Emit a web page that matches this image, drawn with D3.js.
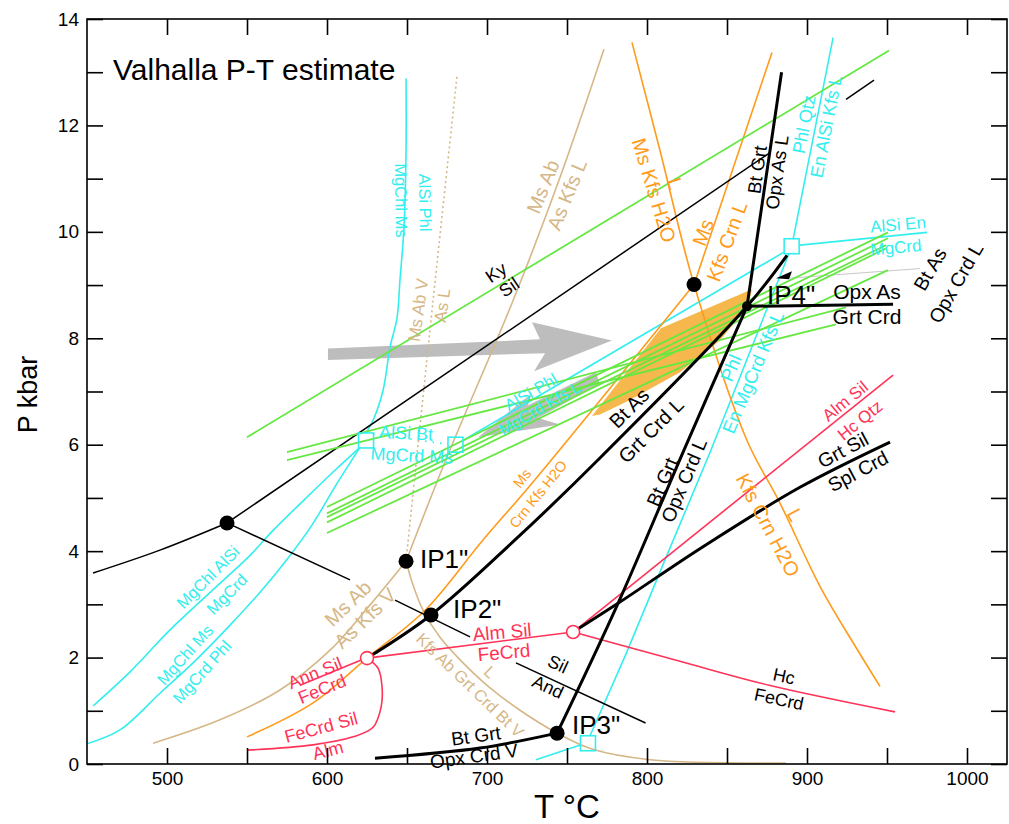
<!DOCTYPE html>
<html>
<head>
<meta charset="utf-8">
<script src="https://cdn.jsdelivr.net/npm/d3@7"></script>
<style>
  body { margin: 0; background: #fff; }
  text { font-family: "Liberation Sans", Arial, Helvetica, sans-serif; }
</style>
</head>
<body>
<div id="chart-area"></div>
<script>
// Valhalla P-T estimate -- petrogenetic grid, T in deg C, P in kbar

var margin = { left: 87, top: 19, right: 2, bottom: 60 }
var width = 1009 - margin.left - margin.right,
    height = 824 - margin.top - margin.bottom

// ticks
var xTicks = [500, 550, 600, 650, 700, 750, 800, 850, 900, 950, 1000]
var xTickLabels = [500, 600, 700, 800, 900, 1000]
var yTicks = [0, 1, 2, 3, 4, 5, 6, 7, 8, 9, 10, 11, 12, 13, 14]
var yTickLabels = [0, 2, 4, 6, 8, 10, 12, 14]

// --- reaction lines, [T, P] ---
// aluminosilicates
var kyAnd = [[453.8, 3.59], [495.6, 4.02], [537.5, 4.53]]
var kySil = [[537.5, 4.53], [876.9, 11.49]]
var kySilTop = [[924.4, 12.49], [941.9, 12.85]]
var silAnd1 = [[537.5, 4.53], [614.4, 3.46]]
var silAnd2 = [[642.5, 3.08], [689.4, 2.39]]
var silAnd3 = [[718.1, 1.90], [799.1, 0.77]]

// thick black
var btAsGrtCrdL = [[625, 1.99], [665, 2.80], [717.5, 4.21], [770.6, 5.75], [862.5, 8.60], [887.5, 9.56]]
var btGrtOpxCrdL = [[743.8, 0.58], [781.9, 3.02], [823.1, 5.90], [862.5, 8.60]]
var btGrtOpxCrdV = [[630, 0.11], [695.6, 0.30], [743.8, 0.58]]
var btGrtOpxAsL = [[862.5, 8.60], [884.1, 13.0]]
var opxAsGrtCrd = [[862.5, 8.60], [953.8, 8.64]]
var grtSilSplCrd = [[753.8, 2.48], [781.9, 3.02], [833.8, 4.06], [895.6, 5.20], [951.9, 6.05]]
var btAsOpxCrdL = [[889.4, 9.13], [970.6, 9.31]]

// Fe system (red)
var almSilFeCrd = [[625, 1.99], [753.8, 2.48]]
var hcFeCrd = [[753.8, 2.48], [820.6, 1.93], [876.3, 1.48], [955, 0.98]]
var almSilHcQtz = [[753.8, 2.48], [953.8, 7.31]]
var annSilFeCrd = [[583.1, 1.48], [621, 1.95]]
var feCrdSilAlm = [[550, 0.26], [591.3, 0.36], [616.3, 0.51], [628.8, 0.69], [633.8, 1.07], [634.4, 1.45], [631.9, 1.80], [625, 1.99]]

// muscovite (orange)
var msCrnKfsH2O = [[550, 0.51], [591.3, 1.15], [625, 1.99], [661.3, 2.89], [697.5, 4.21], [728.8, 5.30], [829.4, 9.01]]
var msKfsCrnL = [[829.4, 9.01], [878.1, 13.37]]
var msKfsH2OL = [[790.6, 13.56], [808.1, 11.53], [829.4, 9.01], [862.5, 6.08], [882.5, 4.94], [908.1, 3.34], [929.4, 2.25], [945.6, 1.46]]

// granite (tan)
var msAbAsKfsV = [[491.3, 0.39], [533.1, 0.83], [570.6, 1.39], [601.9, 2.14], [626.9, 2.99], [649.4, 3.81]]
var msAbAsKfsL = [[649.4, 3.81], [675, 5.77], [716.3, 8.71], [745.6, 11.02], [773.1, 13.43]]
var kfsAbGrtCrdBtV = [[649.4, 3.81], [653.8, 3.36], [660, 2.89], [670.6, 2.38], [684.4, 1.92], [701.9, 1.43], [720.6, 1.01], [743.8, 0.58], [765.6, 0.28], [801.9, 0.08], [886.9, 0.02]]
var msAbVAsL = [[649.4, 3.81], [666.3, 8.71], [681.3, 12.94]]

// Mg system (cyan)
var alsiPhlMgChlMs = [[624.4, 6.22], [628.8, 6.46], [635, 7.02], [639.4, 7.83], [643.8, 8.39], [645.6, 9.09], [648.1, 10.08], [649.4, 11.53], [649.4, 12.88]]
var mgChlAlSiMgCrd = [[453.8, 1.09], [476.9, 1.73], [501.9, 2.52], [531.9, 3.36], [551.9, 3.92], [566.3, 4.39], [585.6, 4.96], [605, 5.52], [620.6, 5.95]]
var mgChlMsMgCrdPhl = [[450, 0.38], [470.6, 0.64], [495.6, 1.33], [516.3, 1.90], [539.4, 2.61], [559.4, 3.27], [576.9, 3.92], [590.6, 4.49], [605.6, 5.24], [620.6, 5.95]]
var alsiBtMgCrdMs = [[628.8, 6.20], [675.6, 6.01]]
var alsiPhlMgCrdKfsL = [[685, 6.08], [885.6, 9.62]]
var alsiEnMgCrd = [[895.6, 9.75], [975, 9.99]]
var phlQtzEnAlsiKfsL = [[891.3, 9.86], [916.3, 13.65]]
var phlEnMgCrdKfsL = [[888.8, 9.60], [840, 5.90], [810.6, 3.79], [786.9, 2.07], [764.4, 0.53]]
var cyanLow = [[758.8, 0.36], [730.6, 0.08]]

// average P-T lines (green)
var greenLines = [
  [[550, 6.14], [951.3, 13.41]],
  [[575, 5.86], [924.4, 8.58]],
  [[575, 5.71], [918.1, 8.26]],
  [[600, 4.83], [950.6, 9.99]],
  [[600, 4.71], [950.6, 9.88]],
  [[600, 4.64], [949.4, 9.75]],
  [[600, 4.54], [949.4, 9.69]],
  [[600, 4.34], [950.6, 9.28]]
]

// P-T estimate field and path arrows
var ptField = [[765.6, 6.54], [808.7, 8.19], [865.6, 8.92], [863.1, 8.60], [845.6, 7.96], [820.6, 7.36], [789.4, 6.84], [770.6, 6.57]]
var bigArrow = [[600.6, 7.81], [733.1, 7.98], [728.1, 8.30], [778.1, 7.96], [729.4, 7.38], [736.3, 7.72], [600.6, 7.59]]
var smallArrow = [[694.4, 6.14], [728.1, 6.97], [725.6, 6.74], [768.1, 7.36], [770.6, 7.14], [731.9, 6.50], [745.6, 6.38]]
var ip4Arrow = [[880.6, 9.13], [890.6, 9.26], [888.8, 9.11]]

// points
var invariantPoints = [[537.5, 4.53], [649.4, 3.81], [665, 2.80], [743.8, 0.58], [829.4, 9.01], [862.5, 8.60]]
var openCircles = [[625, 1.99], [753.8, 2.48]]
var squares = [[624.4, 6.08], [680.3, 6.00], [890.4, 9.73], [763.1, 0.39]]
var ipNames = [["IP1\"", 658.1, 3.68], ["IP2\"", 678.8, 2.74], ["IP3\"", 753.1, 0.56], ["IP4\"", 875, 8.64]]

var C = { k: "#000000", c: "#33eeee", o: "#ff9b1a", t: "#d6b787", r: "#ff3358", g: "#66e843" }

// text, T, P, angle, colour, size
var labels = [
  ["Ky", 705.6, 9.24, -34, "k", 18],
  ["Sil", 713.8, 8.96, -34, "k", 18],
  ["Sil", 744.4, 1.88, 25, "k", 18],
  ["And", 738.1, 1.45, 25, "k", 18],
  ["Hc", 885.6, 1.65, 12, "k", 18],
  ["FeCrd", 882.5, 1.22, 12, "k", 18],
  ["Ms", 721.9, 5.37, -51, "o", 14.5],
  ["Crn Kfs H2O", 731.9, 5.07, -51, "o", 14.5],
  ["Ms", 835, 9.99, -70, "o", 20],
  ["Kfs Crn L", 850, 9.82, -70, "o", 20],
  ["Ms Kfs H2O", 804.4, 10.78, 73, "o", 20],
  ["L", 817.5, 10.91, 73, "o", 20],
  ["Kfs Crn H2O", 875.6, 4.49, 62, "o", 20],
  ["L", 892.5, 4.68, 62, "o", 20],
  ["Bt Grt", 868.8, 11.17, -82, "k", 18.5],
  ["Opx As L", 881.3, 11.12, -82, "k", 18.5],
  ["Phl Qtz", 898.1, 12.02, -79, "c", 18],
  ["En AlSi Kfs L", 911.9, 11.98, -79, "c", 18],
  ["AlSi En", 956.9, 10.14, -5, "c", 17],
  ["MgCrd", 955.6, 9.71, -5, "c", 17],
  ["Opx As", 937.5, 8.87, 0, "k", 21],
  ["Grt Crd", 937.5, 8.40, 0, "k", 21],
  ["Bt As", 976.9, 9.30, -60, "k", 19.5],
  ["Opx Crd L", 993.1, 9.04, -60, "k", 19.5],
  ["Bt As", 788.8, 6.69, -45, "k", 20],
  ["Grt Crd L", 802.5, 6.27, -45, "k", 20],
  ["Bt Grt", 809.4, 5.30, -67, "k", 19.5],
  ["Opx Crd L", 823.1, 5.33, -67, "k", 19.5],
  ["Phl", 852.5, 7.44, -67, "c", 18.5],
  ["En MgCrd Kfs L", 866.3, 7.36, -67, "c", 18.5],
  ["Alm Sil", 923.8, 6.82, -39, "r", 17],
  ["Hc Qtz", 933.1, 6.46, -39, "r", 17],
  ["Grt Sil", 922.5, 5.90, -28, "k", 19.5],
  ["Spl Crd", 931.9, 5.50, -28, "k", 19.5],
  ["Alm Sil", 709.4, 2.48, -5, "r", 19],
  ["FeCrd", 710.6, 2.10, -5, "r", 19],
  ["Ann Sil", 592.5, 1.71, -22, "r", 18],
  ["FeCrd", 596.9, 1.41, -22, "r", 18],
  ["FeCrd Sil", 596.3, 0.69, -15, "r", 18],
  ["Alm", 600.6, 0.26, -15, "r", 18],
  ["Bt Grt", 693.1, 0.53, -8, "k", 19],
  ["Opx Crd V", 691.9, 0.15, -8, "k", 19],
  ["Kfs Ab Grt Crd Bt V", 689.4, 1.48, 44, "t", 16.5],
  ["L", 701.9, 1.73, 44, "t", 16.5],
  ["Ms Ab", 613.1, 3.02, -44, "t", 20],
  ["As Kfs V", 623.8, 2.74, -44, "t", 20],
  ["Ms Ab", 735, 10.85, -68, "t", 20],
  ["As Kfs L", 750, 10.70, -68, "t", 20],
  ["Ms Ab V", 656.9, 8.53, -82, "t", 17],
  ["As L", 671.9, 8.62, -82, "t", 17],
  ["AlSi Phl", 661.3, 10.55, 89, "c", 16.5],
  ["MgChl Ms", 646.3, 10.59, 89, "c", 16.5],
  ["MgChl AlSi", 525.6, 3.51, -45, "c", 16.5],
  ["MgCrd", 537.5, 3.19, -45, "c", 16.5],
  ["MgChl Ms", 511.3, 2.05, -48, "c", 16.5],
  ["MgCrd Phl", 521.9, 1.73, -48, "c", 16.5],
  ["AlSi Bt", 649.4, 6.22, 3, "c", 18],
  ["MgCrd Ms", 653.1, 5.80, 3, "c", 18],
  ["AlSi Phl", 727.5, 6.99, -30, "c", 16.5],
  ["MgCrd Kfs L", 733.1, 6.69, -30, "c", 16.5]
]

var svg = d3.select("#chart-area").append("svg")
    .attr("width", width + margin.left + margin.right)
    .attr("height", height + margin.top + margin.bottom)

var g = svg.append("g")
    .attr("transform", "translate(" + margin.left + "," + margin.top + ")")

var x = d3.scaleLinear().domain([450, 1025]).range([0, width])
var y = d3.scaleLinear().domain([0, 14]).range([height, 0])

svg.append("clipPath").attr("id", "plot-clip")
  .append("rect").attr("width", width).attr("height", height)

var plot = g.append("g").attr("clip-path", "url(#plot-clip)")

var straight = d3.line().x(function(d) { return x(d[0]) }).y(function(d) { return y(d[1]) })
var smooth = d3.line().x(function(d) { return x(d[0]) }).y(function(d) { return y(d[1]) })
    .curve(d3.curveCatmullRom.alpha(0.5))

// shaded P-T field and grey arrows underneath
plot.append("path").attr("d", straight(ptField) + "Z").attr("fill", "#f6b74c")
plot.append("path").attr("d", straight(bigArrow) + "Z").attr("fill", "#bdbdbd")
plot.append("path").attr("d", straight(smallArrow) + "Z").attr("fill", "#bdbdbd")

var lines = [
  { pts: mgChlAlSiMgCrd, c: "c", w: 1.6, s: true },
  { pts: mgChlMsMgCrdPhl, c: "c", w: 1.6, s: true },
  { pts: alsiPhlMgChlMs, c: "c", w: 1.6, s: true },
  { pts: alsiBtMgCrdMs, c: "c", w: 1.8, dash: "1.5,6" },
  { pts: alsiPhlMgCrdKfsL, c: "c", w: 1.6 },
  { pts: alsiEnMgCrd, c: "c", w: 1.6 },
  { pts: phlQtzEnAlsiKfsL, c: "c", w: 1.6 },
  { pts: phlEnMgCrdKfsL, c: "c", w: 1.6 },
  { pts: cyanLow, c: "c", w: 1.6 },
  { pts: msAbAsKfsV, c: "t", w: 1.6, s: true },
  { pts: msAbAsKfsL, c: "t", w: 1.6, s: true },
  { pts: kfsAbGrtCrdBtV, c: "t", w: 1.6, s: true },
  { pts: msAbVAsL, c: "t", w: 1.6, s: true, dash: "2,3" },
  { pts: msCrnKfsH2O, c: "o", w: 1.6, s: true },
  { pts: msKfsCrnL, c: "o", w: 1.6 },
  { pts: msKfsH2OL, c: "o", w: 1.6, s: true },
  { pts: almSilFeCrd, c: "r", w: 1.6 },
  { pts: hcFeCrd, c: "r", w: 1.6, s: true },
  { pts: almSilHcQtz, c: "r", w: 1.6 },
  { pts: annSilFeCrd, c: "r", w: 1.6 },
  { pts: feCrdSilAlm, c: "r", w: 1.6, s: true },
  { pts: kyAnd, c: "k", w: 1.5, s: true },
  { pts: kySil, c: "k", w: 1.5 },
  { pts: kySilTop, c: "k", w: 1.5 },
  { pts: silAnd1, c: "k", w: 1.5 },
  { pts: silAnd2, c: "k", w: 1.5 },
  { pts: silAnd3, c: "k", w: 1.5 },
  { pts: btAsOpxCrdL, c: "#c8c8c8", w: 1 }
]

greenLines.forEach(function(p) { lines.push({ pts: p, c: "g", w: 1.8 }) })

lines = lines.concat([
  { pts: btAsGrtCrdL, c: "k", w: 3, s: true },
  { pts: btGrtOpxCrdL, c: "k", w: 3, s: true },
  { pts: btGrtOpxCrdV, c: "k", w: 3, s: true },
  { pts: btGrtOpxAsL, c: "k", w: 3 },
  { pts: opxAsGrtCrd, c: "k", w: 3 },
  { pts: grtSilSplCrd, c: "k", w: 3, s: true }
])

plot.selectAll("path.rxn")
  .data(lines)
  .enter().append("path")
    .attr("class", "rxn")
    .attr("d", function(d) { return d.s ? smooth(d.pts) : straight(d.pts) })
    .attr("fill", "none")
    .attr("stroke", function(d) { return C[d.c] || d.c })
    .attr("stroke-width", function(d) { return d.w })
    .attr("stroke-dasharray", function(d) { return d.dash || null })

plot.append("path").attr("d", straight(ip4Arrow) + "Z").attr("fill", "#000")

plot.selectAll("circle.ip")
  .data(invariantPoints)
  .enter().append("circle")
    .attr("cx", function(d) { return x(d[0]) })
    .attr("cy", function(d) { return y(d[1]) })
    .attr("r", function(d, i) { return i == 5 ? 5 : 7.5 })
    .attr("fill", "#000")

plot.selectAll("circle.open")
  .data(openCircles)
  .enter().append("circle")
    .attr("cx", function(d) { return x(d[0]) })
    .attr("cy", function(d) { return y(d[1]) })
    .attr("r", 6.5)
    .attr("fill", "#fff")
    .attr("stroke", C.r)
    .attr("stroke-width", 1.6)

plot.selectAll("rect.sq")
  .data(squares)
  .enter().append("rect")
    .attr("x", function(d) { return x(d[0]) - 7.5 })
    .attr("y", function(d) { return y(d[1]) - 7.5 })
    .attr("width", 15)
    .attr("height", 15)
    .attr("fill", "none")
    .attr("stroke", C.c)
    .attr("stroke-width", 1.6)

// labels
g.selectAll("text.lab")
  .data(labels)
  .enter().append("text")
    .attr("class", "lab")
    .attr("transform", function(d) {
      return "translate(" + x(d[1]) + "," + y(d[2]) + ") rotate(" + d[3] + ")"
    })
    .attr("text-anchor", "middle")
    .attr("dy", "0.35em")
    .attr("font-size", function(d) { return d[5] + "px" })
    .attr("fill", function(d) { return C[d[4]] })
    .text(function(d) { return d[0] })

g.selectAll("text.ipname")
  .data(ipNames)
  .enter().append("text")
    .attr("x", function(d) { return x(d[1]) })
    .attr("y", function(d) { return y(d[2]) })
    .attr("font-size", "26px")
    .text(function(d) { return d[0] })

g.append("text")
  .attr("x", 26)
  .attr("y", 61)
  .attr("font-size", "30px")
  .text("Valhalla P-T estimate")

// axes, ticks pointing inward
function styleAxis(sel) {
  sel.select(".domain").remove()
  sel.selectAll("line").attr("stroke-width", 1.6)
  sel.selectAll("text").attr("font-size", "19px")
    .attr("font-family", "Liberation Sans, Arial, sans-serif")
}

var xAxisCall = d3.axisBottom(x)
  .tickValues(xTicks)
  .tickSize(-16)
  .tickPadding(8)
  .tickFormat(function(d) { return xTickLabels.indexOf(d) >= 0 ? d : "" })

g.append("g")
  .attr("class", "x axis")
  .attr("transform", "translate(0," + height + ")")
  .call(xAxisCall)
  .call(styleAxis)

g.append("g")
  .attr("class", "x axis top")
  .call(d3.axisTop(x).tickValues(xTicks).tickSize(-16).tickFormat(""))
  .call(styleAxis)

var yAxisCall = d3.axisLeft(y)
  .tickValues(yTicks)
  .tickSize(-16)
  .tickPadding(8)
  .tickFormat(function(d) { return yTickLabels.indexOf(d) >= 0 ? d : "" })

g.append("g")
  .attr("class", "y axis")
  .call(yAxisCall)
  .call(styleAxis)

g.append("g")
  .attr("class", "y axis right")
  .attr("transform", "translate(" + width + ",0)")
  .call(d3.axisRight(y).tickValues(yTicks).tickSize(-16).tickFormat(""))
  .call(styleAxis)

g.append("rect")
  .attr("width", width)
  .attr("height", height)
  .attr("fill", "none")
  .attr("stroke", "#000")
  .attr("stroke-width", 1.6)

g.append("text")
  .attr("x", x(750))
  .attr("y", height + 54)
  .attr("text-anchor", "middle")
  .attr("font-size", "33px")
  .text("T \u00b0C")

g.append("text")
  .attr("transform", "rotate(-90)")
  .attr("x", -(y(7) + 3))
  .attr("y", -50)
  .attr("text-anchor", "middle")
  .attr("font-size", "27px")
  .text("P kbar")
</script>
</body>
</html>
